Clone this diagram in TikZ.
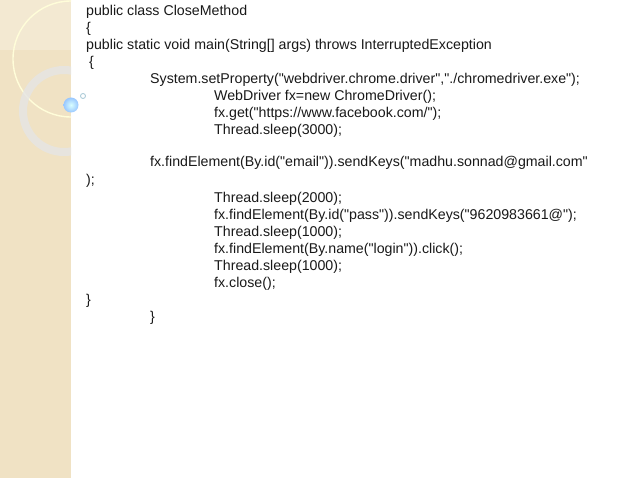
\documentclass[tikz,border=0pt]{standalone}
\usepackage{fontspec}
\setmainfont{Liberation Sans}[Ligatures=TeXOff]
\begin{document}
\begin{tikzpicture}[x=1pt,y=-1pt,code/.style={anchor=west,inner sep=0pt,font=\fontsize{14.2}{16}\selectfont,text=black!90}]
\useasboundingbox (0,0) rectangle (638,478);
\fill[white] (0,0) rectangle (638,478);
\definecolor{band}{RGB}{240,226,196}
\fill[band] (0,0) rectangle (71,478);
\fill[white,opacity=0.25] (0,0) rectangle (71,50);
\begin{scope}
\clip (0,0) rectangle (71,478);
\draw[white!85!yellow,line width=1.4pt] (71,59) circle (58);
\draw[gray!20,opacity=0.8,line width=8pt] (64,111) circle (41);
\end{scope}
\shade[inner color=cyan!15,outer color=cyan!45!blue!40] (71,105) circle (7.5);
\draw[cyan!40!gray!60,line width=0.8pt] (83,96) circle (2.5);
\node[code] (l1) at (86,12) {public class CloseMethod};
\node[code] (l2) at (86,29) {\{};
\node[code] (l3) at (86,46) {public static void main(String[] args) throws InterruptedException};
\node[code] (l4) at (89,63) {\{};
\node[code] (l5) at (150,80) {System.setProperty("webdriver.chrome.driver","./chromedriver.exe");};
\node[code] (l6) at (214,97) {WebDriver fx=new ChromeDriver();};
\node[code] (l7) at (214,114) {fx.get("https://www.facebook.com/");};
\node[code] (l8) at (214,131) {Thread.sleep(3000);};
\node[code] (l9) at (150,163) {fx.findElement(By.id("email")).sendKeys("madhu.sonnad@gmail.com"};
\node[code] (l10) at (86,181) {);};
\node[code] (l11) at (214,199) {Thread.sleep(2000);};
\node[code] (l12) at (214,216) {fx.findElement(By.id("pass")).sendKeys("9620983661@");};
\node[code] (l13) at (214,233) {Thread.sleep(1000);};
\node[code] (l14) at (214,250) {fx.findElement(By.name("login")).click();};
\node[code] (l15) at (214,267) {Thread.sleep(1000);};
\node[code] (l16) at (214,284) {fx.close();};
\node[code] (l17) at (86,301) {\}};
\node[code] (l18) at (150,318) {\}};
\end{tikzpicture}
\end{document}
